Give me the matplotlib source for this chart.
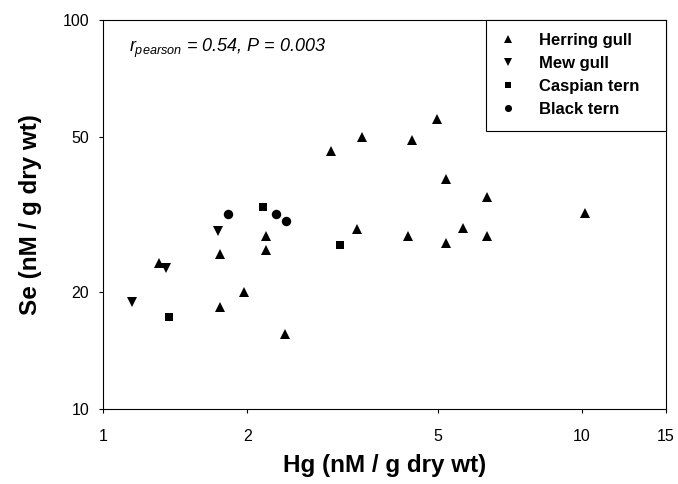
import matplotlib
matplotlib.use("Agg")
import matplotlib.pyplot as plt
from matplotlib.ticker import NullLocator, FixedLocator, FixedFormatter

plt.rcParams['font.family'] = ['Liberation Sans', 'DejaVu Sans']
plt.rcParams['mathtext.fontset'] = 'custom'
plt.rcParams['mathtext.it'] = 'Liberation Sans:italic'
plt.rcParams['mathtext.rm'] = 'Liberation Sans'
plt.rcParams['mathtext.sf'] = 'Liberation Sans'

# ---- data (Hg, Se in nM / g dry wt) ----
herring_hg = [1.31, 1.75, 1.75, 1.97, 2.19, 2.19, 2.40, 3.00, 3.48, 4.42, 4.99,
              5.20, 6.35, 10.18, 3.40, 5.66, 4.34, 6.35, 5.21]
herring_se = [23.8, 25.0, 18.3, 20.0, 27.8, 25.6, 15.6, 46.1, 50.0, 49.3, 55.7,
              39.0, 35.0, 32.0, 29.0, 29.2, 27.8, 27.9, 26.8]

mew_hg = [1.15, 1.35, 1.735]
mew_se = [18.9, 23.1, 28.7]

caspian_hg = [1.37, 2.16, 3.13]
caspian_se = [17.3, 33.1, 26.5]

black_hg = [1.82, 2.30, 2.41]
black_se = [31.8, 31.8, 30.5]

series = [
    ("Herring gull", herring_hg, herring_se, "^", 6.8),
    ("Mew gull", mew_hg, mew_se, "v", 6.8),
    ("Caspian tern", caspian_hg, caspian_se, "s", 6.2),
    ("Black tern", black_hg, black_se, "o", 6.8),
]

x_ticks = [1, 2, 5, 10, 15]
x_ticklabels = ["1", "2", "5", "10", "15"]
y_ticks = [10, 20, 50, 100]
y_ticklabels = ["10", "20", "50", "100"]

annotation = r"$\mathit{r}_{\mathit{pearson}}$ = 0.54, P = 0.003"

fig = plt.figure(figsize=(6.78, 4.84), dpi=100)
ax = fig.add_axes([0.1524, 0.1543, 0.8295, 0.8044])

for label, xs, ys, mk, ms in series:
    ax.plot(xs, ys, linestyle="none", marker=mk, markersize=ms,
            color="black", markeredgewidth=0, label=label)

ax.set_xscale("log")
ax.set_yscale("log")
ax.set_xlim(1, 15)
ax.set_ylim(10, 100)

ax.xaxis.set_major_locator(FixedLocator(x_ticks))
ax.xaxis.set_major_formatter(FixedFormatter(x_ticklabels))
ax.yaxis.set_major_locator(FixedLocator(y_ticks))
ax.yaxis.set_major_formatter(FixedFormatter(y_ticklabels))
ax.xaxis.set_minor_locator(NullLocator())
ax.yaxis.set_minor_locator(NullLocator())

ax.tick_params(axis="x", direction="out", length=3.2, width=0.8, pad=11.0,
               labelsize=11.5, colors="black")
ax.tick_params(axis="y", direction="out", length=3.2, width=0.8, pad=7.0,
               labelsize=11.5, colors="black")

for sp in ax.spines.values():
    sp.set_linewidth(0.8)
    sp.set_color("black")

ax.set_xlabel("Hg (nM / g dry wt)", fontsize=17.5, fontweight="bold")
ax.xaxis.set_label_coords(0.5, -0.1618)
ax.xaxis.label.set_va("baseline")

ax.set_ylabel("Se (nM / g dry wt)", fontsize=17.5, fontweight="bold")
ax.yaxis.set_label_coords(-0.1179, 0.5)
ax.yaxis.label.set_va("baseline")

ax.text(0.0462, 0.9186, annotation, transform=ax.transAxes,
        fontsize=13, fontstyle="italic", ha="left", va="baseline")

leg = ax.legend(loc="upper left", bbox_to_anchor=(0.6803, 0.0, 0.3197, 1.0),
                mode="expand", prop={"weight": "bold", "size": 12},
                frameon=True, fancybox=False, framealpha=1, edgecolor="black",
                borderpad=0.8, handlelength=1.0, handletextpad=1.38,
                labelspacing=0.48, markerscale=0.75, borderaxespad=0)
leg.get_frame().set_linewidth(0.8)

fig.savefig("out.png", dpi=100)
